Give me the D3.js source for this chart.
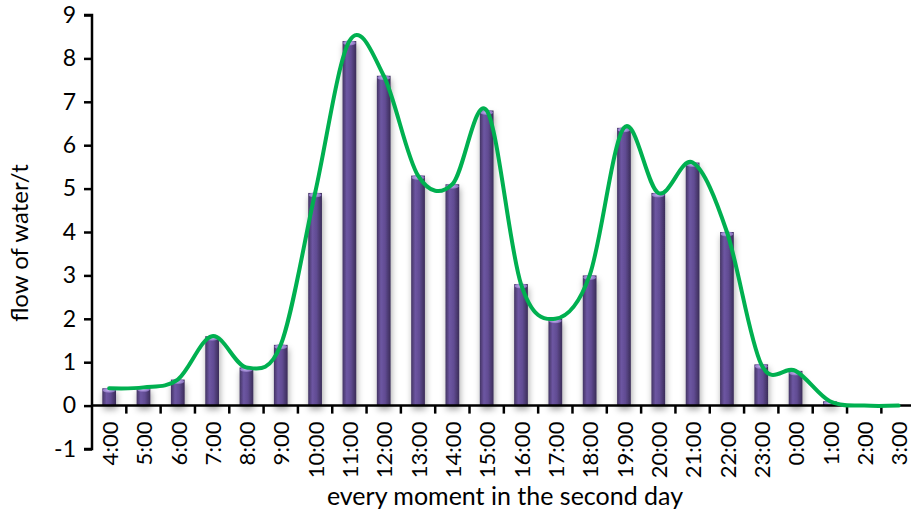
<!DOCTYPE html>
<html>
<head>
<meta charset="utf-8">
<script src="https://cdn.jsdelivr.net/npm/d3@7"></script>
<style>
  html, body { margin: 0; padding: 0; background: #fff; }
  svg { display: block; font-family: Lato, "Open Sans", sans-serif; }
</style>
</head>
<body>
<svg id="chart" width="911" height="515"></svg>
<script>
const categories = ["4:00","5:00","6:00","7:00","8:00","9:00","10:00","11:00","12:00","13:00","14:00","15:00","16:00","17:00","18:00","19:00","20:00","21:00","22:00","23:00","0:00","1:00","2:00","3:00"];
const flow = [0.4,0.42,0.6,1.6,0.88,1.4,4.9,8.4,7.6,5.3,5.1,6.8,2.8,2.0,3.0,6.4,4.9,5.6,4.0,0.95,0.8,0.1,0,0];
const yTicks = [-1,0,1,2,3,4,5,6,7,8,9];
const xTitle = "every moment in the second day";
const yTitle = "flow of water/t";

const svg = d3.select("#chart");
const defs = svg.append("defs");

const grad = defs.append("linearGradient").attr("id","barGrad").attr("x1","0").attr("x2","1").attr("y1","0").attr("y2","0");
grad.append("stop").attr("offset","0%").attr("stop-color","#433463");
grad.append("stop").attr("offset","30%").attr("stop-color","#6d56a2");
grad.append("stop").attr("offset","60%").attr("stop-color","#614c93");
grad.append("stop").attr("offset","100%").attr("stop-color","#3a2c57");

const capGrad = defs.append("radialGradient").attr("id","capGrad").attr("cx","45%").attr("cy","50%").attr("r","60%");
capGrad.append("stop").attr("offset","0%").attr("stop-color","#c6b2f2");
capGrad.append("stop").attr("offset","100%").attr("stop-color","#7d65b3");

const shadow = defs.append("filter").attr("id","shadow").attr("x","-50%").attr("y","-20%").attr("width","200%").attr("height","140%");
shadow.append("feDropShadow").attr("dx",1).attr("dy",4).attr("stdDeviation",3).attr("flood-color","#000").attr("flood-opacity",0.35);

const x0 = 92, step = 34.32;
const x = d3.scaleBand().domain(categories).range([x0, x0 + step * categories.length]).paddingInner(0.6).paddingOuter(0.3);
const y = d3.scaleLinear().domain([-1, 9]).range([449, 15]);

// bars
const bars = svg.append("g").attr("filter","url(#shadow)");
const bw = x.bandwidth();
categories.forEach((c, i) => {
  const v = flow[i];
  if (v <= 0) return;
  bars.append("rect")
    .attr("x", x(c)).attr("y", y(v))
    .attr("width", bw).attr("height", y(0) - y(v))
    .attr("fill", "url(#barGrad)");
  bars.append("ellipse")
    .attr("cx", x(c) + bw / 2).attr("cy", y(v) + 2)
    .attr("rx", bw / 2 - 0.5).attr("ry", 2.5)
    .attr("fill", "url(#capGrad)");
});

// y axis
const yAxis = svg.append("g").attr("transform", `translate(${x0},0)`)
  .call(d3.axisLeft(y).tickValues(yTicks).tickSize(8).tickPadding(8).tickFormat(d => String(d)));
yAxis.select(".domain").attr("stroke","#000").attr("stroke-width",2.5).attr("d", `M-8,${y(9)}H0V${y(-1)}H-8`);
yAxis.selectAll(".tick line").attr("stroke","#000").attr("stroke-width",2.5);
yAxis.selectAll(".tick text").attr("font-size",23).attr("fill","#000").attr("font-family","Lato, sans-serif");

// x axis at zero
const xAxisG = svg.append("g").attr("transform", `translate(0,${y(0)})`);
xAxisG.append("line").attr("x1", x0).attr("x2", x0 + step * categories.length).attr("y1",0).attr("y2",0)
  .attr("stroke","#000").attr("stroke-width",2.5);
d3.range(1, categories.length + 1).forEach(k => {
  xAxisG.append("line").attr("x1", x0 + k * step).attr("x2", x0 + k * step).attr("y1",0).attr("y2",8)
    .attr("stroke","#000").attr("stroke-width",2.5);
});
categories.forEach(c => {
  const cx = x(c) + bw / 2;
  xAxisG.append("text")
    .attr("transform", `translate(${cx + 1},${16}) rotate(-90)`)
    .attr("text-anchor","end").attr("dy","0.35em")
    .attr("font-size",22).attr("fill","#000")
    .text(c);
});

// smooth line
const line = d3.line()
  .x((d, i) => x(categories[i]) + bw / 2)
  .y(d => y(d))
  .curve(d3.curveCardinal.tension(0));
svg.append("path").datum(flow)
  .attr("d", line)
  .attr("fill","none").attr("stroke","#00b050").attr("stroke-width",4)
  .attr("stroke-linejoin","round").attr("stroke-linecap","round");

// titles
svg.append("text").attr("x", 505).attr("y", 505).attr("text-anchor","middle")
  .attr("font-size",25).attr("fill","#000").text(xTitle);
svg.append("text").attr("transform", `translate(28,${243}) rotate(-90)`).attr("text-anchor","middle")
  .attr("font-size",24).attr("fill","#000").text(yTitle);
</script>
</body>
</html>
